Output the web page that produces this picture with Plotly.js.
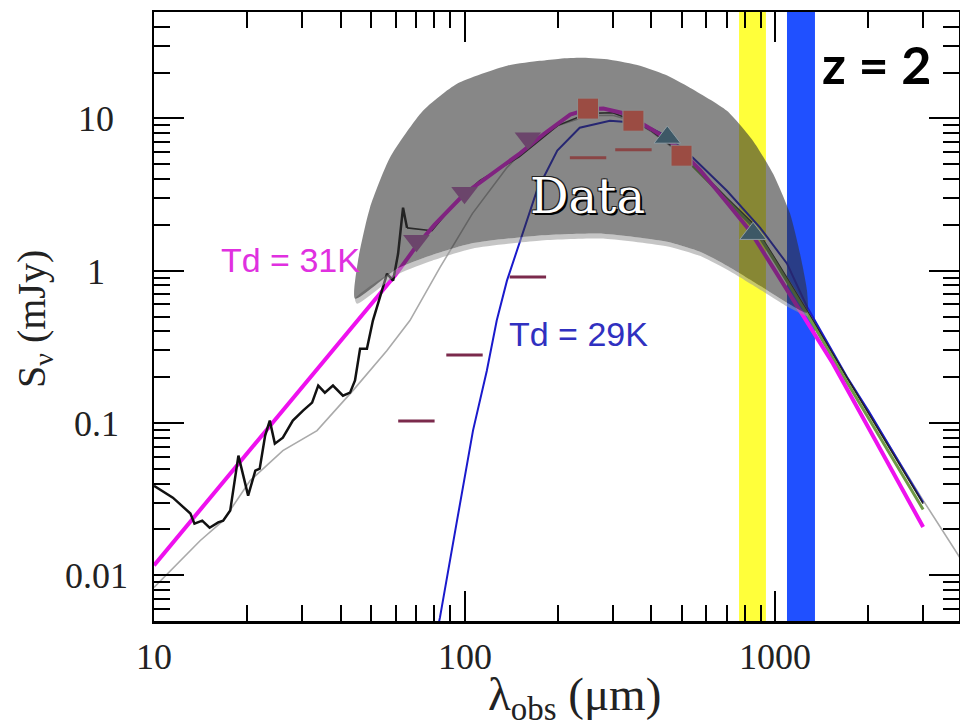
<!DOCTYPE html>
<html>
<head>
<meta charset="utf-8">
<script src="https://cdn.plot.ly/plotly-3.0.1.min.js"></script>
<style>html,body{margin:0;padding:0;background:#fff;}#chart{width:960px;height:726px;}</style>
</head>
<body>
<div id="chart"></div>
<script>
// ---------------- data ----------------
// black: observed IRS spectrum
const specLam  = [10, 11.5, 13.1, 13.5, 14.3, 15.1, 16.1, 16.7, 17.6, 18.7, 20.1, 21.2, 21.9, 22.8, 23.6, 24.5, 26.0, 28.0, 30.2, 32.3, 33.8, 35.5, 37.7, 40.6, 42.8, 44.4, 46.1, 48.5, 50.7, 53.5, 56.3, 58.9, 61.1, 63.4, 65.3];
const specFlux = [0.0387, 0.0323, 0.0254, 0.0218, 0.0228, 0.0205, 0.0222, 0.0228, 0.0266, 0.061, 0.0333, 0.0486, 0.0501, 0.0826, 0.1035, 0.0731, 0.080, 0.1035, 0.1205, 0.136, 0.176, 0.158, 0.176, 0.151, 0.158, 0.190, 0.307, 0.307, 0.47, 0.665, 0.955, 0.86, 1.29, 2.59, 1.91];
// black: total model beyond the spectrum
const modelLam  = [65.3, 78.5, 94.6, 112, 150, 200, 250, 300, 350, 400, 500, 544, 700, 849, 1000, 1268, 1706, 2000, 3000];
const modelFlux = [1.91, 1.83, 2.88, 3.9, 5.6, 9.0, 10.8, 10.9, 9.7, 8.3, 5.9, 5.04, 3.0, 2.04, 1.2, 0.546, 0.198, 0.116, 0.0295];
// grey: template SED
const greyLam  = [10, 14.1, 16.7, 20.4, 26, 33.5, 43.7, 56.2, 66.7, 83.4, 106, 137, 166, 200, 250, 300, 350, 400, 500, 700, 850, 1000, 1268, 1706, 2000, 3000, 3945];
const greyFlux = [0.0083, 0.0169, 0.0228, 0.0418, 0.0658, 0.089, 0.163, 0.298, 0.47, 1.05, 2.37, 4.75, 7.14, 9.0, 10.4, 10.5, 9.6, 8.2, 5.8, 2.95, 1.98, 1.2, 0.55, 0.2, 0.118, 0.031, 0.013];
// magenta: Td = 31K model
const magLam  = [10, 20, 30, 40, 50, 60, 70, 80, 100, 130, 151, 180, 219, 250, 280, 320, 350, 400, 450, 500, 573, 700, 830, 1000, 1202, 1538, 2000, 2500, 3000];
const magFlux = [0.0116, 0.0637, 0.172, 0.348, 0.60, 0.94, 1.45, 2.0, 3.2, 4.7, 5.9, 7.9, 10.6, 11.5, 11.6, 10.9, 10.0, 8.5, 7.3, 6.1, 4.6, 2.8, 1.83, 1.0, 0.546, 0.245, 0.093, 0.0407, 0.0207];
// blue: Td = 29K model
const blueLam  = [82, 83.4, 94.6, 106.5, 118, 127, 137, 154, 171, 199, 235, 294, 350, 400, 450, 500, 544, 700, 895, 1094, 1268, 1706, 2000, 3000];
const blueFlux = [0.0045, 0.0053, 0.0228, 0.089, 0.22, 0.47, 0.86, 1.75, 3.35, 6.14, 8.69, 9.66, 9.4, 8.6, 7.6, 6.4, 5.52, 3.35, 1.92, 1.11, 0.58, 0.2, 0.12, 0.03];
// green: long-wavelength model
const greenLam  = [500, 700, 850, 1000, 1268, 1706, 2000, 3000];
const greenFlux = [5.8, 2.9, 1.95, 1.15, 0.52, 0.185, 0.108, 0.027];
// photometry
const downTriLam = [70, 100, 160];
const downTriFlux = [1.57, 3.25, 7.4];
const squareLam = [250, 350, 500];
const squareFlux = [11.6, 9.66, 5.69];
const upTriLam = [450, 850];
const upTriFlux = [7.5, 1.75];
const dashLam = [70, 100, 160, 250, 350];
const dashFlux = [0.103, 0.279, 0.91, 5.52, 6.23];
// observing bands (micron) and their full-height flux span
const yellowBand = [766, 935];
const blueBand = [1093, 1345];
const bandSpan = [1e-4, 1e4];
// "Data" highlight outline (wavelength, flux)
const hlLam  = [44.4, 45.4, 49.6, 57.5, 73.5, 94.6, 137.1, 175, 203, 240.8, 294, 367.5, 442, 532, 700, 849, 985, 1118, 1204, 1268, 1268, 1093, 894.6, 700.3, 573.4, 448.9, 279.3, 171.2, 104.2, 77.4, 60.6, 44.4];
const hlFlux = [0.655, 1.163, 2.593, 5.52, 11.23, 16.9, 22.2, 23.9, 24.7, 25.0, 24.3, 22.2, 19.4, 15.9, 11.23, 7.14, 4.34, 2.37, 1.293, 0.739, 0.530, 0.616, 0.797, 1.078, 1.333, 1.55, 1.75, 1.697, 1.504, 1.254, 1.03, 0.655];
// light rim under the highlight
const rimLam  = [44.4, 60.6, 77.4, 104.2, 171.2, 279.3, 448.9, 573.4, 700.3, 894.6, 1093, 1268, 1277, 1110, 908, 711, 582, 455.7, 283.5, 173.8, 105.7, 78.6, 61.5, 45.07, 44.4];
const rimFlux = [0.655, 1.03, 1.254, 1.504, 1.697, 1.75, 1.55, 1.333, 1.078, 0.797, 0.616, 0.530, 0.499, 0.572, 0.739, 1.0, 1.236, 1.437, 1.622, 1.574, 1.395, 1.163, 0.956, 0.607, 0.655];
// axis labels
const xTickVals = [10, 100, 1000];
const xTickText = ['10', '100', '1000'];
const yTickVals = [0.01, 0.1, 1, 10];
const yTickText = ['0.01', '0.1', '1', '10'];

// ---------------- traces ----------------
function band(edges, color) {
  return {x: [edges[0], edges[1], edges[1], edges[0], edges[0]],
          y: [bandSpan[0], bandSpan[0], bandSpan[1], bandSpan[1], bandSpan[0]],
          mode: 'lines', fill: 'toself', fillcolor: color, line: {width: 0}};
}
const traces = [
  band(yellowBand, '#ffff3a'),
  band(blueBand, '#2050ff'),
  {x: greyLam, y: greyFlux, mode: 'lines', line: {color: '#aaaaaa', width: 1.6}},
  {x: blueLam, y: blueFlux, mode: 'lines', line: {color: '#1a1acc', width: 2}},
  {x: modelLam, y: modelFlux, mode: 'lines', line: {color: '#222222', width: 1.6}},
  {x: greenLam, y: greenFlux, mode: 'lines', line: {color: '#6f9a45', width: 3}},
  {x: magLam, y: magFlux, mode: 'lines', line: {color: '#ee11ee', width: 4}},
  {x: specLam, y: specFlux, mode: 'lines', line: {color: '#111111', width: 2.5}},
  {x: rimLam, y: rimFlux, mode: 'lines', fill: 'toself', fillcolor: 'rgba(150,150,150,0.55)', line: {width: 0, shape: 'spline', smoothing: 0.6}},
  {x: hlLam, y: hlFlux, mode: 'lines', fill: 'toself', fillcolor: 'rgba(48,48,48,0.58)', line: {width: 0, shape: 'spline', smoothing: 0.6}},
  {x: dashLam, y: dashFlux, mode: 'markers', marker: {symbol: 'line-ew', size: 26, line: {color: ['#7b2a4c', '#7b2a4c', '#7b2a4c', '#8a4545', '#8a4545'], width: 3}}},
  {x: downTriLam, y: downTriFlux, mode: 'markers', marker: {symbol: 'triangle-down', size: 23, color: '#6b456b', line: {width: 0}}},
  {x: squareLam, y: squareFlux, mode: 'markers', marker: {symbol: 'square', size: 21, color: '#9b4c43', line: {color: '#8c8c8c', width: 1}}},
  {x: upTriLam, y: upTriFlux, mode: 'markers', marker: {symbol: 'triangle-up', size: 23, color: '#3d5866', line: {color: '#8f9ca2', width: 1}}}
];

const L = 154, R = 959, T = 12, B = 621;
const W = R - L, H = B - T;
const serif = 'Liberation Serif, Times New Roman, serif';
const annotations = [];
xTickVals.forEach((v, i) => annotations.push({
  x: Math.log10(v), xref: 'x', y: 0, yref: 'paper', yshift: -36, xanchor: 'center', yanchor: 'middle',
  text: xTickText[i], showarrow: false, font: {family: serif, size: 36, color: '#222'}
}));
yTickVals.forEach((v, i) => annotations.push({
  x: (96 - L) / W, xref: 'paper', y: Math.log10(v), yref: 'y', yshift: -1, xanchor: 'center', yanchor: 'middle',
  text: yTickText[i], showarrow: false, font: {family: serif, size: 36, color: '#222'}
}));
annotations.push(
  {x: (574 - L) / W, xref: 'paper', y: (B - 697) / H, yref: 'paper', xanchor: 'center', yanchor: 'middle', showarrow: false,
   text: 'λ<sub>obs</sub> (μm)', font: {family: serif, size: 47, color: '#222'}},
  {x: (34 - L) / W, xref: 'paper', y: (B - 319) / H, yref: 'paper', xanchor: 'center', yanchor: 'middle', showarrow: false, textangle: -90,
   text: 'S<sub>ν</sub> (mJy)', font: {family: serif, size: 40, color: '#222'}},
  {x: (587.5 - L) / W, xref: 'paper', y: (B - 196) / H, yref: 'paper', xanchor: 'center', yanchor: 'middle', showarrow: false,
   text: 'Data', font: {family: 'DejaVu Serif, serif', size: 48, color: '#ffffff', shadow: '2px 2px 0px #000, -1px -1px 0px #222, 1px -1px 0 #222, -1px 1px 0 #222'}},
  {x: (877 - L) / W, xref: 'paper', y: (B - 64) / H, yref: 'paper', xanchor: 'center', yanchor: 'middle', showarrow: false,
   text: '<b>z = 2</b>', font: {family: 'Lato, sans-serif', size: 52, color: '#000'}},
  {x: (290 - L) / W, xref: 'paper', y: (B - 260) / H, yref: 'paper', xanchor: 'center', yanchor: 'middle', showarrow: false,
   text: 'Td = 31K', font: {family: 'Liberation Sans, Arial, sans-serif', size: 34, color: '#e030e0'}},
  {x: (578.5 - L) / W, xref: 'paper', y: (B - 334) / H, yref: 'paper', xanchor: 'center', yanchor: 'middle', showarrow: false,
   text: 'Td = 29K', font: {family: 'Liberation Sans, Arial, sans-serif', size: 34, color: '#3030c0'}}
);

const axisCommon = {
  type: 'log', showgrid: false, zeroline: false, showline: true, linecolor: '#000', linewidth: 2.5,
  mirror: 'ticks', ticks: 'inside', ticklen: 30, tickwidth: 2, tickcolor: '#000',
  tickmode: 'linear', tick0: 0, dtick: 1, showticklabels: false,
  minor: {ticks: 'inside', ticklen: 16, tickwidth: 2, tickcolor: '#000', dtick: 'D1', showgrid: false}
};

const layout = {
  width: 960, height: 726,
  margin: {l: L, r: 960 - R, t: T, b: 726 - B, pad: 0},
  paper_bgcolor: '#fff', plot_bgcolor: '#fff',
  showlegend: false, hovermode: false,
  xaxis: Object.assign({}, axisCommon, {range: [1, 3.5926]}),
  yaxis: Object.assign({}, axisCommon, {range: [Math.log10(0.005), Math.log10(50)]}),
  annotations: annotations
};

Plotly.newPlot('chart', traces, layout, {displayModeBar: false, staticPlot: true});
</script>
</body>
</html>
